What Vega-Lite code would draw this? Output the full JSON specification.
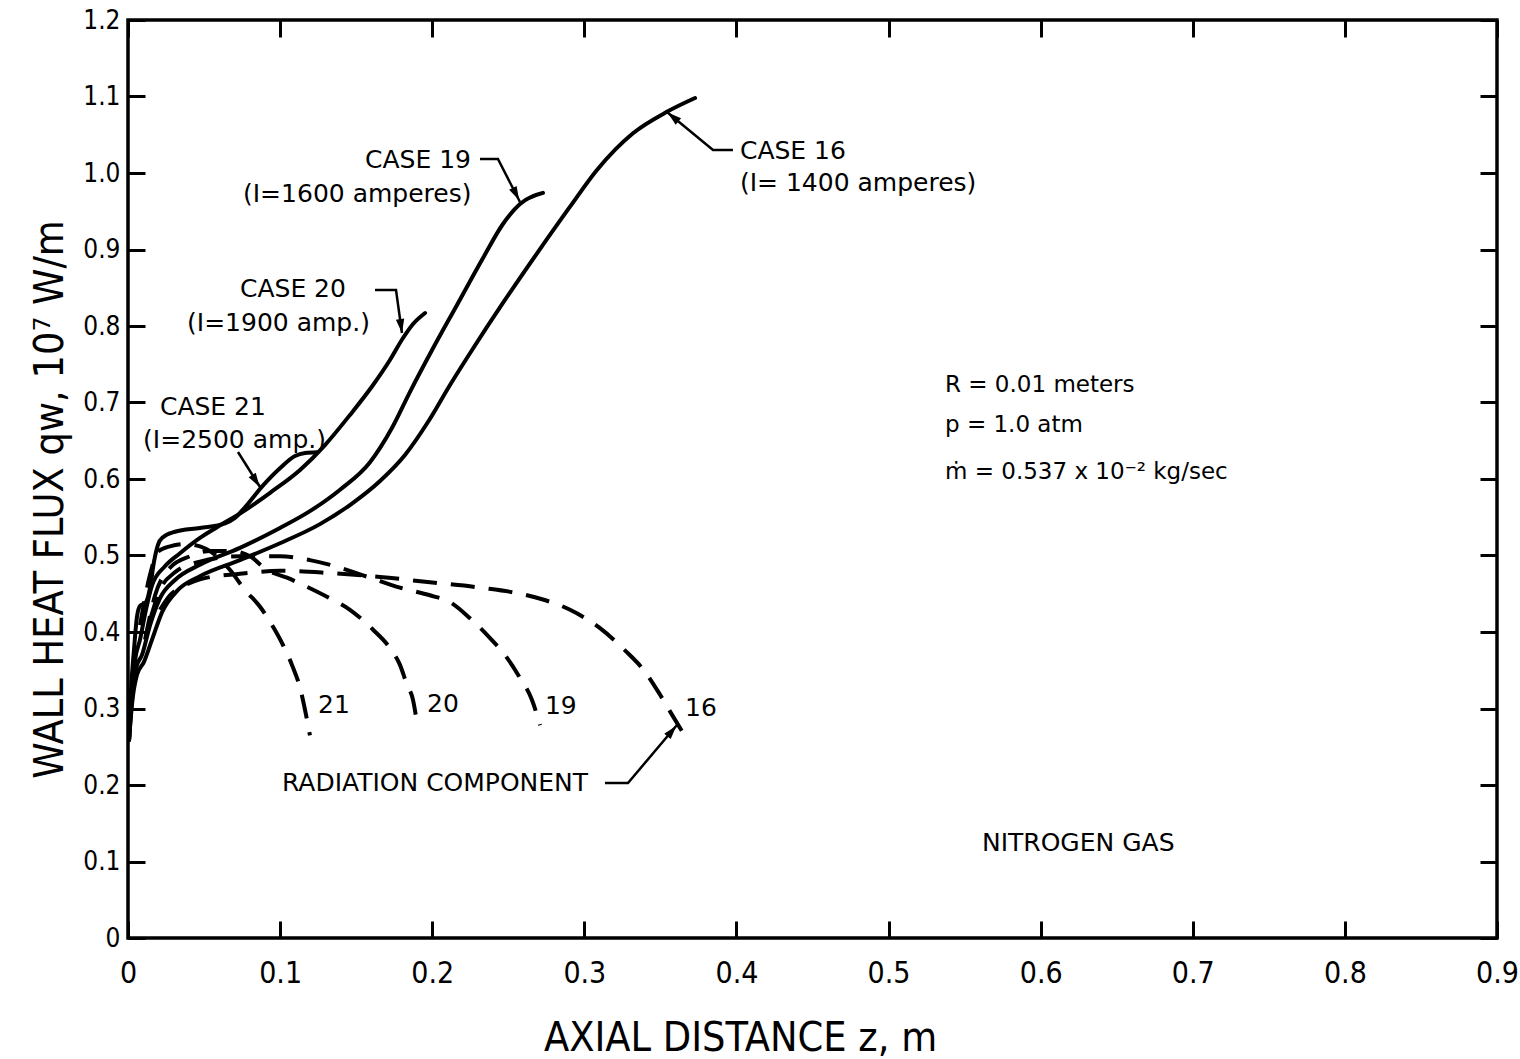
{
  "$schema": "https://vega.github.io/schema/vega-lite/v6.json",
  "width": 1369,
  "height": 918,
  "autosize": {"type": "none"},
  "padding": {"left": 128, "top": 20, "right": 23, "bottom": 121},
  "background": "white",
  "config": {
    "view": {"stroke": "black", "strokeWidth": 3.5},
    "axis": {"labelColor": "black", "titleColor": "black", "tickColor": "black", "titleFontWeight": "normal", "grid": false, "domain": false}
  },
  "datasets": {
    "curves": [
      {"c": "21", "k": "total", "z": 0.0007, "q": 0.259},
      {"c": "21", "k": "total", "z": 0.002, "q": 0.324},
      {"c": "21", "k": "total", "z": 0.0039, "q": 0.376},
      {"c": "21", "k": "total", "z": 0.0059, "q": 0.42},
      {"c": "21", "k": "total", "z": 0.0079, "q": 0.434},
      {"c": "21", "k": "total", "z": 0.0118, "q": 0.439},
      {"c": "21", "k": "total", "z": 0.0145, "q": 0.458},
      {"c": "21", "k": "total", "z": 0.0171, "q": 0.492},
      {"c": "21", "k": "total", "z": 0.0197, "q": 0.514},
      {"c": "21", "k": "total", "z": 0.023, "q": 0.524},
      {"c": "21", "k": "total", "z": 0.0309, "q": 0.531},
      {"c": "21", "k": "total", "z": 0.0473, "q": 0.536},
      {"c": "21", "k": "total", "z": 0.0638, "q": 0.542},
      {"c": "21", "k": "total", "z": 0.0703, "q": 0.549},
      {"c": "21", "k": "total", "z": 0.0769, "q": 0.563},
      {"c": "21", "k": "total", "z": 0.0881, "q": 0.59},
      {"c": "21", "k": "total", "z": 0.0999, "q": 0.614},
      {"c": "21", "k": "total", "z": 0.1098, "q": 0.63},
      {"c": "21", "k": "total", "z": 0.1164, "q": 0.634},
      {"c": "21", "k": "total", "z": 0.1243, "q": 0.635},

      {"c": "20", "k": "total", "z": 0.0007, "q": 0.259},
      {"c": "20", "k": "total", "z": 0.0026, "q": 0.324},
      {"c": "20", "k": "total", "z": 0.0046, "q": 0.363},
      {"c": "20", "k": "total", "z": 0.0079, "q": 0.39},
      {"c": "20", "k": "total", "z": 0.0118, "q": 0.429},
      {"c": "20", "k": "total", "z": 0.0158, "q": 0.461},
      {"c": "20", "k": "total", "z": 0.0243, "q": 0.486},
      {"c": "20", "k": "total", "z": 0.0342, "q": 0.503},
      {"c": "20", "k": "total", "z": 0.0473, "q": 0.523},
      {"c": "20", "k": "total", "z": 0.0585, "q": 0.537},
      {"c": "20", "k": "total", "z": 0.0769, "q": 0.559},
      {"c": "20", "k": "total", "z": 0.0934, "q": 0.582},
      {"c": "20", "k": "total", "z": 0.1131, "q": 0.6118},
      {"c": "20", "k": "total", "z": 0.1295, "q": 0.6444},
      {"c": "20", "k": "total", "z": 0.1459, "q": 0.6837},
      {"c": "20", "k": "total", "z": 0.1611, "q": 0.7229},
      {"c": "20", "k": "total", "z": 0.1722, "q": 0.7556},
      {"c": "20", "k": "total", "z": 0.1808, "q": 0.7843},
      {"c": "20", "k": "total", "z": 0.1874, "q": 0.8026},
      {"c": "20", "k": "total", "z": 0.1953, "q": 0.817},

      {"c": "19", "k": "total", "z": 0.0007, "q": 0.259},
      {"c": "19", "k": "total", "z": 0.0026, "q": 0.311},
      {"c": "19", "k": "total", "z": 0.0053, "q": 0.353},
      {"c": "19", "k": "total", "z": 0.0092, "q": 0.37},
      {"c": "19", "k": "total", "z": 0.0145, "q": 0.409},
      {"c": "19", "k": "total", "z": 0.021, "q": 0.444},
      {"c": "19", "k": "total", "z": 0.0309, "q": 0.468},
      {"c": "19", "k": "total", "z": 0.0473, "q": 0.488},
      {"c": "19", "k": "total", "z": 0.0736, "q": 0.51},
      {"c": "19", "k": "total", "z": 0.0999, "q": 0.536},
      {"c": "19", "k": "total", "z": 0.1196, "q": 0.558},
      {"c": "19", "k": "total", "z": 0.1394, "q": 0.586},
      {"c": "19", "k": "total", "z": 0.1591, "q": 0.622},
      {"c": "19", "k": "total", "z": 0.1736, "q": 0.667},
      {"c": "19", "k": "total", "z": 0.1854, "q": 0.714},
      {"c": "19", "k": "total", "z": 0.1999, "q": 0.7686},
      {"c": "19", "k": "total", "z": 0.2163, "q": 0.8275},
      {"c": "19", "k": "total", "z": 0.2334, "q": 0.8889},
      {"c": "19", "k": "total", "z": 0.2465, "q": 0.9333},
      {"c": "19", "k": "total", "z": 0.2577, "q": 0.9595},
      {"c": "19", "k": "total", "z": 0.2728, "q": 0.974},

      {"c": "16", "k": "total", "z": 0.0007, "q": 0.259},
      {"c": "16", "k": "total", "z": 0.0026, "q": 0.305},
      {"c": "16", "k": "total", "z": 0.0059, "q": 0.344},
      {"c": "16", "k": "total", "z": 0.0105, "q": 0.361},
      {"c": "16", "k": "total", "z": 0.0158, "q": 0.39},
      {"c": "16", "k": "total", "z": 0.0224, "q": 0.426},
      {"c": "16", "k": "total", "z": 0.0329, "q": 0.455},
      {"c": "16", "k": "total", "z": 0.0473, "q": 0.473},
      {"c": "16", "k": "total", "z": 0.0736, "q": 0.494},
      {"c": "16", "k": "total", "z": 0.0999, "q": 0.516},
      {"c": "16", "k": "total", "z": 0.1262, "q": 0.541},
      {"c": "16", "k": "total", "z": 0.1459, "q": 0.566},
      {"c": "16", "k": "total", "z": 0.1657, "q": 0.5974},
      {"c": "16", "k": "total", "z": 0.1821, "q": 0.6314},
      {"c": "16", "k": "total", "z": 0.1972, "q": 0.6745},
      {"c": "16", "k": "total", "z": 0.2117, "q": 0.7229},
      {"c": "16", "k": "total", "z": 0.2262, "q": 0.7686},
      {"c": "16", "k": "total", "z": 0.2465, "q": 0.8301},
      {"c": "16", "k": "total", "z": 0.2689, "q": 0.895},
      {"c": "16", "k": "total", "z": 0.2906, "q": 0.956},
      {"c": "16", "k": "total", "z": 0.3083, "q": 1.004},
      {"c": "16", "k": "total", "z": 0.332, "q": 1.052},
      {"c": "16", "k": "total", "z": 0.3543, "q": 1.08},
      {"c": "16", "k": "total", "z": 0.3728, "q": 1.098},

      {"c": "21", "k": "rad", "z": 0.0079, "q": 0.409},
      {"c": "21", "k": "rad", "z": 0.0145, "q": 0.475},
      {"c": "21", "k": "rad", "z": 0.0197, "q": 0.505},
      {"c": "21", "k": "rad", "z": 0.0276, "q": 0.512},
      {"c": "21", "k": "rad", "z": 0.0375, "q": 0.515},
      {"c": "21", "k": "rad", "z": 0.0473, "q": 0.512},
      {"c": "21", "k": "rad", "z": 0.0572, "q": 0.501},
      {"c": "21", "k": "rad", "z": 0.0671, "q": 0.481},
      {"c": "21", "k": "rad", "z": 0.0769, "q": 0.455},
      {"c": "21", "k": "rad", "z": 0.0868, "q": 0.433},
      {"c": "21", "k": "rad", "z": 0.0947, "q": 0.409},
      {"c": "21", "k": "rad", "z": 0.1019, "q": 0.383},
      {"c": "21", "k": "rad", "z": 0.1078, "q": 0.357},
      {"c": "21", "k": "rad", "z": 0.1131, "q": 0.327},
      {"c": "21", "k": "rad", "z": 0.1164, "q": 0.298},
      {"c": "21", "k": "rad", "z": 0.1196, "q": 0.265},

      {"c": "20", "k": "rad", "z": 0.0112, "q": 0.39},
      {"c": "20", "k": "rad", "z": 0.0178, "q": 0.448},
      {"c": "20", "k": "rad", "z": 0.0276, "q": 0.484},
      {"c": "20", "k": "rad", "z": 0.0408, "q": 0.499},
      {"c": "20", "k": "rad", "z": 0.0539, "q": 0.506},
      {"c": "20", "k": "rad", "z": 0.0671, "q": 0.506},
      {"c": "20", "k": "rad", "z": 0.0802, "q": 0.499},
      {"c": "20", "k": "rad", "z": 0.0914, "q": 0.481},
      {"c": "20", "k": "rad", "z": 0.1045, "q": 0.471},
      {"c": "20", "k": "rad", "z": 0.1177, "q": 0.459},
      {"c": "20", "k": "rad", "z": 0.1308, "q": 0.446},
      {"c": "20", "k": "rad", "z": 0.1459, "q": 0.429},
      {"c": "20", "k": "rad", "z": 0.1611, "q": 0.403},
      {"c": "20", "k": "rad", "z": 0.1722, "q": 0.379},
      {"c": "20", "k": "rad", "z": 0.1788, "q": 0.357},
      {"c": "20", "k": "rad", "z": 0.1834, "q": 0.331},
      {"c": "20", "k": "rad", "z": 0.1874, "q": 0.311},
      {"c": "20", "k": "rad", "z": 0.19, "q": 0.281},

      {"c": "19", "k": "rad", "z": 0.0145, "q": 0.416},
      {"c": "19", "k": "rad", "z": 0.021, "q": 0.455},
      {"c": "19", "k": "rad", "z": 0.0309, "q": 0.478},
      {"c": "19", "k": "rad", "z": 0.0473, "q": 0.492},
      {"c": "19", "k": "rad", "z": 0.0736, "q": 0.499},
      {"c": "19", "k": "rad", "z": 0.0999, "q": 0.499},
      {"c": "19", "k": "rad", "z": 0.1196, "q": 0.494},
      {"c": "19", "k": "rad", "z": 0.1394, "q": 0.484},
      {"c": "19", "k": "rad", "z": 0.1591, "q": 0.471},
      {"c": "19", "k": "rad", "z": 0.1788, "q": 0.458},
      {"c": "19", "k": "rad", "z": 0.1985, "q": 0.448},
      {"c": "19", "k": "rad", "z": 0.2117, "q": 0.439},
      {"c": "19", "k": "rad", "z": 0.2248, "q": 0.418},
      {"c": "19", "k": "rad", "z": 0.238, "q": 0.392},
      {"c": "19", "k": "rad", "z": 0.2478, "q": 0.37},
      {"c": "19", "k": "rad", "z": 0.2577, "q": 0.34},
      {"c": "19", "k": "rad", "z": 0.2656, "q": 0.311},
      {"c": "19", "k": "rad", "z": 0.2709, "q": 0.278},

      {"c": "16", "k": "rad", "z": 0.021, "q": 0.429},
      {"c": "16", "k": "rad", "z": 0.0276, "q": 0.448},
      {"c": "16", "k": "rad", "z": 0.0375, "q": 0.461},
      {"c": "16", "k": "rad", "z": 0.0473, "q": 0.469},
      {"c": "16", "k": "rad", "z": 0.0736, "q": 0.476},
      {"c": "16", "k": "rad", "z": 0.0999, "q": 0.48},
      {"c": "16", "k": "rad", "z": 0.1328, "q": 0.477},
      {"c": "16", "k": "rad", "z": 0.1657, "q": 0.472},
      {"c": "16", "k": "rad", "z": 0.1985, "q": 0.465},
      {"c": "16", "k": "rad", "z": 0.2314, "q": 0.458},
      {"c": "16", "k": "rad", "z": 0.2643, "q": 0.447},
      {"c": "16", "k": "rad", "z": 0.2906, "q": 0.429},
      {"c": "16", "k": "rad", "z": 0.3103, "q": 0.405},
      {"c": "16", "k": "rad", "z": 0.3267, "q": 0.376},
      {"c": "16", "k": "rad", "z": 0.3399, "q": 0.348},
      {"c": "16", "k": "rad", "z": 0.3498, "q": 0.318},
      {"c": "16", "k": "rad", "z": 0.3576, "q": 0.292},
      {"c": "16", "k": "rad", "z": 0.3649, "q": 0.268}
    ],
    "leaders": [
      {"id": "19", "i": 0, "z": 0.2314, "q": 1.0183},
      {"id": "19", "i": 1, "z": 0.2432, "q": 1.0183},
      {"id": "19", "i": 2, "z": 0.2577, "q": 0.9621},
      {"id": "20", "i": 0, "z": 0.1624, "q": 0.847},
      {"id": "20", "i": 1, "z": 0.1762, "q": 0.847},
      {"id": "20", "i": 2, "z": 0.1801, "q": 0.7908},
      {"id": "21", "i": 0, "z": 0.0723, "q": 0.6353},
      {"id": "21", "i": 1, "z": 0.0868, "q": 0.5895},
      {"id": "16", "i": 0, "z": 0.3977, "q": 1.0301},
      {"id": "16", "i": 1, "z": 0.3846, "q": 1.0301},
      {"id": "16", "i": 2, "z": 0.3543, "q": 1.0797},
      {"id": "rad", "i": 0, "z": 0.3136, "q": 0.2026},
      {"id": "rad", "i": 1, "z": 0.3287, "q": 0.2026},
      {"id": "rad", "i": 2, "z": 0.3609, "q": 0.2784}
    ],
    "heads": [
      {"id": "19", "z": 0.2551, "q": 0.9725},
      {"id": "20", "z": 0.1795, "q": 0.8},
      {"id": "21", "z": 0.0841, "q": 0.5974},
      {"id": "16", "z": 0.3583, "q": 1.0732},
      {"id": "rad", "z": 0.3576, "q": 0.2706}
    ],
    "labels": [
      {"g": "main", "z": 0.1558, "q": 1.017, "t": "CASE 19"},
      {"g": "main", "z": 0.0756, "q": 0.9725, "t": "(I=1600 amperes)"},
      {"g": "main", "z": 0.0736, "q": 0.848, "t": "CASE 20"},
      {"g": "main", "z": 0.0388, "q": 0.804, "t": "(I=1900 amp.)"},
      {"g": "main", "z": 0.021, "q": 0.694, "t": "CASE 21"},
      {"g": "main", "z": 0.0099, "q": 0.651, "t": "(I=2500 amp.)"},
      {"g": "main", "z": 0.4023, "q": 1.029, "t": "CASE 16"},
      {"g": "main", "z": 0.4023, "q": 0.987, "t": "(I= 1400 amperes)"},
      {"g": "main", "z": 0.1012, "q": 0.2026, "t": "RADIATION COMPONENT"},
      {"g": "main", "z": 0.1249, "q": 0.3046, "t": "21"},
      {"g": "main", "z": 0.1966, "q": 0.306, "t": "20"},
      {"g": "main", "z": 0.2741, "q": 0.3033, "t": "19"},
      {"g": "main", "z": 0.3662, "q": 0.3007, "t": "16"},
      {"g": "main", "z": 0.5614, "q": 0.1242, "t": "NITROGEN GAS"},
      {"g": "param", "z": 0.5371, "q": 0.7229, "t": "R = 0.01 meters"},
      {"g": "param", "z": 0.5371, "q": 0.6706, "t": "p = 1.0 atm"},
      {"g": "param", "z": 0.5371, "q": 0.6092, "t": "ṁ = 0.537 x 10⁻² kg/sec"}
    ]
  },
  "resolve": {"axis": {"x": "independent", "y": "independent"}},
  "layer": [
    {
      "data": {"name": "curves"},
      "transform": [{"filter": "datum.k == 'total'"}],
      "mark": {"type": "line", "color": "black", "strokeWidth": 4, "interpolate": "monotone", "strokeCap": "round", "strokeJoin": "round"},
      "encoding": {
        "x": {"field": "z", "type": "quantitative", "scale": {"domain": [0, 0.9], "nice": false, "zero": false},
          "axis": {"orient": "bottom", "values": [0, 0.1, 0.2, 0.3, 0.4, 0.5, 0.6, 0.7, 0.8, 0.9],
            "labelExpr": "datum.value == 0 ? '0' : format(datum.value, '.1f')",
            "ticks": true, "tickSize": -17, "tickWidth": 3, "labelPadding": 37, "labelFlush": false,
            "labelFont": "DejaVu Sans Condensed, Liberation Sans, sans-serif", "labelFontSize": 30, "labelBaseline": "top",
            "title": "AXIAL DISTANCE  z, m", "titleFont": "DejaVu Sans Condensed, Liberation Sans, sans-serif", "titleFontSize": 41,
            "titleX": 612, "titleY": 112, "titleAlign": "center", "titleBaseline": "alphabetic"}},
        "y": {"field": "q", "type": "quantitative", "scale": {"domain": [0, 1.2], "nice": false, "zero": false},
          "axis": {"orient": "left", "values": [0, 0.1, 0.2, 0.3, 0.4, 0.5, 0.6, 0.7, 0.8, 0.9, 1.0, 1.1, 1.2],
            "labelExpr": "datum.value == 0 ? '0' : format(datum.value, '.1f')",
            "ticks": true, "tickSize": -17, "tickWidth": 3, "labelPadding": 25, "labelFlush": false,
            "labelFont": "DejaVu Sans Condensed, Liberation Sans, sans-serif", "labelFontSize": 26,
            "title": "WALL HEAT FLUX  qw, 10⁷ W/m", "titleFont": "DejaVu Sans Condensed, Liberation Sans, sans-serif", "titleFontSize": 41,
            "titleX": -66, "titleY": 479, "titleAngle": 270, "titleAlign": "center", "titleBaseline": "alphabetic"}},
        "detail": {"field": "c"}
      }
    },
    {
      "data": {"name": "curves"},
      "transform": [{"filter": "datum.k == 'rad'"}],
      "mark": {"type": "line", "color": "black", "strokeWidth": 4, "interpolate": "monotone", "strokeDash": [24, 14]},
      "encoding": {
        "x": {"field": "z", "type": "quantitative", "scale": {"domain": [0, 0.9], "nice": false, "zero": false}, "axis": null},
        "y": {"field": "q", "type": "quantitative", "scale": {"domain": [0, 1.2], "nice": false, "zero": false}, "axis": null},
        "detail": {"field": "c"}
      }
    },
    {
      "data": {"name": "leaders"},
      "mark": {"type": "line", "color": "black", "strokeWidth": 2.5},
      "encoding": {
        "x": {"field": "z", "type": "quantitative", "scale": {"domain": [0, 0.9], "nice": false, "zero": false},
          "axis": {"orient": "top", "values": [0, 0.1, 0.2, 0.3, 0.4, 0.5, 0.6, 0.7, 0.8, 0.9], "labels": false, "ticks": true, "tickSize": -17, "tickWidth": 3, "title": null}},
        "y": {"field": "q", "type": "quantitative", "scale": {"domain": [0, 1.2], "nice": false, "zero": false},
          "axis": {"orient": "right", "values": [0, 0.1, 0.2, 0.3, 0.4, 0.5, 0.6, 0.7, 0.8, 0.9, 1.0, 1.1, 1.2], "labels": false, "ticks": true, "tickSize": -17, "tickWidth": 3, "title": null}},
        "detail": {"field": "id"},
        "order": {"field": "i"}
      }
    },
    {
      "data": {"name": "heads"},
      "transform": [{"filter": "datum.id == '19'"}],
      "mark": {"type": "point", "shape": "M0,-1L0.6,1L-0.6,1Z", "filled": true, "color": "black", "opacity": 1, "size": 196, "angle": 153},
      "encoding": {
        "x": {"field": "z", "type": "quantitative", "scale": {"domain": [0, 0.9], "nice": false, "zero": false}, "axis": null},
        "y": {"field": "q", "type": "quantitative", "scale": {"domain": [0, 1.2], "nice": false, "zero": false}, "axis": null}
      }
    },
    {
      "data": {"name": "heads"},
      "transform": [{"filter": "datum.id == '20'"}],
      "mark": {"type": "point", "shape": "M0,-1L0.6,1L-0.6,1Z", "filled": true, "color": "black", "opacity": 1, "size": 196, "angle": 172},
      "encoding": {
        "x": {"field": "z", "type": "quantitative", "scale": {"domain": [0, 0.9], "nice": false, "zero": false}, "axis": null},
        "y": {"field": "q", "type": "quantitative", "scale": {"domain": [0, 1.2], "nice": false, "zero": false}, "axis": null}
      }
    },
    {
      "data": {"name": "heads"},
      "transform": [{"filter": "datum.id == '21'"}],
      "mark": {"type": "point", "shape": "M0,-1L0.6,1L-0.6,1Z", "filled": true, "color": "black", "opacity": 1, "size": 196, "angle": 148},
      "encoding": {
        "x": {"field": "z", "type": "quantitative", "scale": {"domain": [0, 0.9], "nice": false, "zero": false}, "axis": null},
        "y": {"field": "q", "type": "quantitative", "scale": {"domain": [0, 1.2], "nice": false, "zero": false}, "axis": null}
      }
    },
    {
      "data": {"name": "heads"},
      "transform": [{"filter": "datum.id == '16'"}],
      "mark": {"type": "point", "shape": "M0,-1L0.6,1L-0.6,1Z", "filled": true, "color": "black", "opacity": 1, "size": 196, "angle": 310},
      "encoding": {
        "x": {"field": "z", "type": "quantitative", "scale": {"domain": [0, 0.9], "nice": false, "zero": false}, "axis": null},
        "y": {"field": "q", "type": "quantitative", "scale": {"domain": [0, 1.2], "nice": false, "zero": false}, "axis": null}
      }
    },
    {
      "data": {"name": "heads"},
      "transform": [{"filter": "datum.id == 'rad'"}],
      "mark": {"type": "point", "shape": "M0,-1L0.6,1L-0.6,1Z", "filled": true, "color": "black", "opacity": 1, "size": 196, "angle": 40},
      "encoding": {
        "x": {"field": "z", "type": "quantitative", "scale": {"domain": [0, 0.9], "nice": false, "zero": false}, "axis": null},
        "y": {"field": "q", "type": "quantitative", "scale": {"domain": [0, 1.2], "nice": false, "zero": false}, "axis": null}
      }
    },
    {
      "data": {"name": "labels"},
      "transform": [{"filter": "datum.g == 'main'"}],
      "mark": {"type": "text", "font": "DejaVu Sans", "fontSize": 25, "align": "left", "baseline": "middle", "color": "black"},
      "encoding": {
        "x": {"field": "z", "type": "quantitative", "scale": {"domain": [0, 0.9], "nice": false, "zero": false}, "axis": null},
        "y": {"field": "q", "type": "quantitative", "scale": {"domain": [0, 1.2], "nice": false, "zero": false}, "axis": null},
        "text": {"field": "t"}
      }
    },
    {
      "data": {"name": "labels"},
      "transform": [{"filter": "datum.g == 'param'"}],
      "mark": {"type": "text", "font": "DejaVu Sans", "fontSize": 23, "align": "left", "baseline": "middle", "color": "black"},
      "encoding": {
        "x": {"field": "z", "type": "quantitative", "scale": {"domain": [0, 0.9], "nice": false, "zero": false}, "axis": null},
        "y": {"field": "q", "type": "quantitative", "scale": {"domain": [0, 1.2], "nice": false, "zero": false}, "axis": null},
        "text": {"field": "t"}
      }
    }
  ]
}
